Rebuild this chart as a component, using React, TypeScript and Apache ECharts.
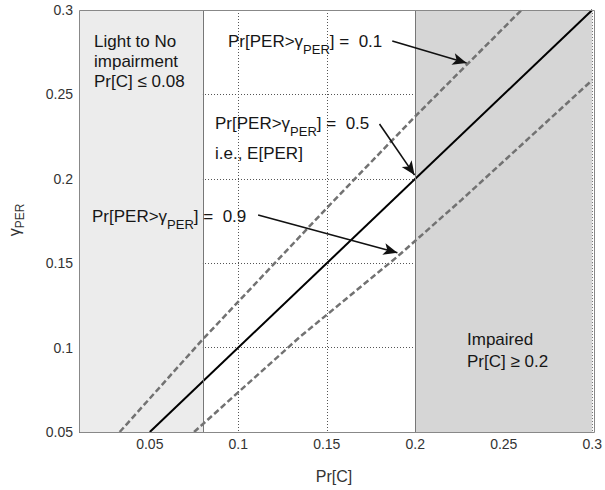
import React, { useEffect, useRef } from 'react';
import * as echarts from 'echarts';

// ---- axis ranges / ticks ----
const xMin = 0.01;
const xMax = 0.3;
const yMin = 0.05;
const yMax = 0.3;
const yStep = 0.05;
const xTicks = [0.05, 0.1, 0.15, 0.2, 0.25, 0.3];

// ---- regions ----
const lightMax = 0.08;
const impairedMin = 0.2;

// ---- curves: gamma_PER vs Pr[C] ----
const prCMedian = [0.05, 0.3];
const gammaMedian = [0.05, 0.3];
const prCP10 = [0.033, 0.08, 0.153, 0.2, 0.26];
const gammaP10 = [0.05, 0.105, 0.186, 0.237, 0.3];
const prCP90 = [0.075, 0.135, 0.19, 0.226, 0.3];
const gammaP90 = [0.05, 0.1065, 0.154, 0.1874, 0.2585];

// ---- annotation arrows (data coords) ----
const arrow01From = [0.187, 0.2816];
const arrow01To = [0.229, 0.2686];
const arrow05From = [0.1798, 0.2325];
const arrow05To = [0.1996, 0.2022];
const arrow09From = [0.1112, 0.1786];
const arrow09To = [0.1899, 0.1562];

const FONT = '"Liberation Sans", Arial, Helvetica, sans-serif';
const TXT = '#161616';

const zip = (xs: number[], ys: number[]) => xs.map((x, i) => [x, ys[i]]);
const fmt = (v: number) => String(+v.toFixed(2));

const rich = {
  a: { fontSize: 17, fontFamily: FONT, fill: TXT, lineHeight: 30 },
  s: { fontSize: 13, fontFamily: FONT, fill: TXT, lineHeight: 13, verticalAlign: 'bottom' },
};

const perLabel = (x: number, y: number, value: string) => ({
  type: 'text',
  x,
  y,
  silent: true,
  z: 120,
  style: {
    text: `{a|Pr[PER>γ}{s|PER}{a|] =  ${value}}`,
    rich,
    align: 'left',
    verticalAlign: 'middle',
    fontFamily: FONT,
    fontSize: 17,
    fill: TXT,
  },
});

const plainText = (x: number, y: number, text: string, lineHeight = 20, align = 'left', size = 17, color = TXT) => ({
  type: 'text',
  x,
  y,
  silent: true,
  z: 120,
  style: {
    text,
    align,
    verticalAlign: 'top',
    fontFamily: FONT,
    fontSize: size,
    lineHeight,
    fill: color,
  },
});

export default function App() {
  const ref = useRef<HTMLDivElement>(null);
  useEffect(() => {
    if (!ref.current) return;
    const chart = echarts.init(ref.current, undefined, { renderer: 'svg' });
    const gridLine = { show: true, lineStyle: { color: '#555', width: 1, type: [1, 2] } };
    const option: any = {
      animation: false,
      backgroundColor: '#fff',
      grid: { left: 79, right: 11, top: 10, bottom: 58, show: false },
      xAxis: {
        type: 'value',
        min: xMin,
        max: xMax,
        axisLine: { show: false },
        axisTick: { show: false, customValues: xTicks },
        axisLabel: {
          customValues: xTicks,
          formatter: fmt,
          color: '#333',
          fontSize: 14,
          fontFamily: FONT,
          margin: 5,
        },
        splitLine: gridLine,
      },
      yAxis: {
        type: 'value',
        min: yMin,
        max: yMax,
        interval: yStep,
        axisLine: { show: false },
        axisTick: { show: false },
        axisLabel: { formatter: fmt, color: '#333', fontSize: 14, fontFamily: FONT, margin: 6 },
        splitLine: gridLine,
      },
      series: [
        {
          type: 'line',
          data: [],
          z: 1,
          silent: true,
          markArea: {
            silent: true,
            label: { show: false },
            data: [
              [{ xAxis: xMin, itemStyle: { color: '#ececec' } }, { xAxis: lightMax }],
              [{ xAxis: impairedMin, itemStyle: { color: '#d6d6d6' } }, { xAxis: xMax }],
            ],
          },
        },
        {
          type: 'line',
          data: [],
          z: 2,
          silent: true,
          markLine: {
            silent: true,
            symbol: ['none', 'none'],
            label: { show: false },
            lineStyle: { color: '#777', width: 1, type: 'solid' },
            data: [{ xAxis: lightMax }, { xAxis: impairedMin }],
          },
        },
        {
          name: 'p10',
          type: 'line',
          data: zip(prCP10, gammaP10),
          showSymbol: false,
          symbol: 'none',
          z: 3,
          lineStyle: { color: '#727272', width: 2.5, type: [6, 3] },
        },
        {
          name: 'p90',
          type: 'line',
          data: zip(prCP90, gammaP90),
          showSymbol: false,
          symbol: 'none',
          z: 3,
          lineStyle: { color: '#727272', width: 2.5, type: [6, 3] },
        },
        {
          name: 'median',
          type: 'line',
          data: zip(prCMedian, gammaMedian),
          showSymbol: false,
          symbol: 'none',
          z: 4,
          lineStyle: { color: '#000', width: 2 },
        },
        {
          type: 'line',
          data: [],
          z: 5,
          silent: true,
          markLine: {
            silent: true,
            symbol: ['none', 'arrow'],
            symbolSize: [9, 14],
            label: { show: false },
            lineStyle: { color: '#111', width: 1.6, type: 'solid' },
            data: [
              [{ coord: arrow01From }, { coord: arrow01To }],
              [{ coord: arrow05From }, { coord: arrow05To }],
              [{ coord: arrow09From }, { coord: arrow09To }],
            ],
          },
        },
      ],
      graphic: [
        {
          type: 'rect',
          silent: true,
          z: 100,
          shape: { x: 79.5, y: 10.5, width: 515, height: 422 },
          style: { fill: 'none', stroke: '#888', lineWidth: 1 },
        },
        plainText(94, 31, 'Light to No\nimpairment\nPr[C] ≤ 0.08'),
        perLabel(228, 41, '0.1'),
        perLabel(215, 123, '0.5'),
        plainText(215, 143, 'i.e., E[PER]'),
        perLabel(92, 216, '0.9'),
        plainText(467, 328, 'Impaired\nPr[C] ≥ 0.2', 22),
        plainText(334, 467, 'Pr[C]', 18, 'center', 16, '#333'),
        {
          type: 'text',
          x: 14,
          y: 220,
          rotation: Math.PI / 2,
          silent: true,
          z: 120,
          style: {
            text: '{a|γ}{s|PER}',
            rich: {
              a: { fontSize: 16, fontFamily: FONT, fill: '#333', lineHeight: 24 },
              s: { fontSize: 12, fontFamily: FONT, fill: '#333', lineHeight: 12, verticalAlign: 'bottom' },
            },
            align: 'center',
            verticalAlign: 'middle',
            fontFamily: FONT,
            fontSize: 16,
            fill: '#333',
          },
        },
      ],
    };
    chart.setOption(option);
    return () => chart.dispose();
  }, []);
  return (
    <div
      ref={ref}
      style={{ position: 'absolute', left: 0, top: 0, width: 605, height: 490 }}
    />
  );
}
